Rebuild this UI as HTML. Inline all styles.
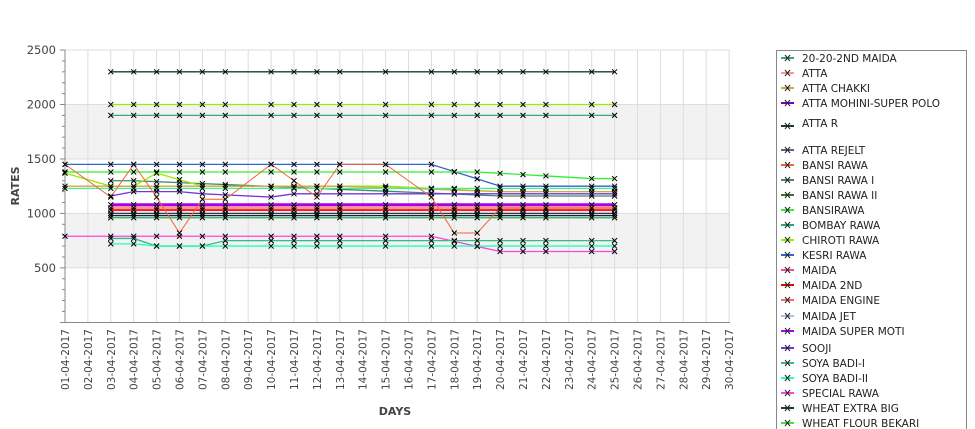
<!DOCTYPE html>
<html><head><meta charset="utf-8"><style>
body{margin:0;background:#fff;width:975px;height:429px;overflow:hidden;font-family:"DejaVu Sans","Liberation Sans",sans-serif}
svg{position:absolute;left:0;top:0}
</style></head><body>
<svg id="s" width="975" height="429" xmlns="http://www.w3.org/2000/svg"></svg>
<script>
const s=document.getElementById('s');let h='';
const X=d=>65+(d-1)*22.9, Y=v=>322.3-v*0.1089;
h+=`<rect x="65" y="${Y(2000)}" width="665" height="${Y(1500)-Y(2000)}" fill="#f2f2f2"/>`;
h+=`<rect x="65" y="${Y(1000)}" width="665" height="${Y(500)-Y(1000)}" fill="#f2f2f2"/>`;
for(let d=1;d<=30;d++)h+=`<line x1="${X(d)}" y1="50" x2="${X(d)}" y2="322" stroke="#ddd" stroke-width="1"/>`;
for(let v=500;v<=2500;v+=500)h+=`<line x1="65" y1="${Y(v)}" x2="730" y2="${Y(v)}" stroke="#ddd"/>`;
h+=`<line x1="65" y1="50" x2="65" y2="322.5" stroke="#888"/><line x1="60" y1="322.5" x2="730" y2="322.5" stroke="#888"/>`;
for(let v=100;v<=2500;v+=100)h+=`<line x1="${v%500?62:60}" y1="${Y(v)}" x2="65" y2="${Y(v)}" stroke="#888"/>`;
for(let v=500;v<=2500;v+=500)h+=`<text x="56" y="${Y(v)+4}" font-size="11.5" fill="#444" text-anchor="end">${v}</text>`;
for(let d=1;d<=30;d++){const l=(d<10?'0':'')+d+'-04-2017';h+=`<text transform="translate(${X(d)+4},329) rotate(-90)" font-size="10.5" fill="#444" text-anchor="end">${l}</text>`;}
h+=`<text x="395" y="415" font-size="11" font-weight="bold" fill="#444" text-anchor="middle">DAYS</text>`;
h+=`<text transform="translate(19,186) rotate(-90)" font-size="11" font-weight="bold" fill="#444" text-anchor="middle">RATES</text>`;
const D=[3,4,5,6,7,8,10,11,12,13,15,17,18,19,20,21,22,24,25];
function ser(col,f,days,w){days=days||D;let p=days.map(d=>[X(d),Y(f(d))]);
h+=`<polyline points="${p.map(a=>a.join(',')).join(' ')}" fill="none" stroke="${col}" stroke-width="${w||1.3}"/>`;
p.forEach(a=>h+=`<path d="M${a[0]-2.5},${a[1]-2.5}l5,5M${a[0]+2.5},${a[1]-2.5}l-5,5" stroke="#000" stroke-width="1"/>`);}
const lin=(a,b,d0,d1)=>d=>d<=d0?a:d>=d1?b:a+(b-a)*(d-d0)/(d1-d0);
const D1=[1,...D];
ser('#1b3a3a',()=>2300);
ser('#99ee00',()=>2000);
ser('#33aa88',()=>1900);
ser('#3366cc',lin(1450,1250,17,20),D1);
ser('#33ee33',lin(1380,1320,19,24),D1);
ser('#448866',d=>d<=3?1300:lin(1300,1160,4,20)(d));
ser('#99ee00',d=>({1:1370,3:1250,4:1250,5:1370,6:1310,7:1250}[d]||lin(1250,1200,15,20)(d)),D1);
ser('#ccaa44',lin(1250,1200,13,20),D1);
ser('#44ee99',()=>1230,D1);
ser('#7733dd',d=>d<=3?1160:d<=6?1200:d<=10?lin(1180,1150,7,10)(d):1180);
ser('#aa00ee',()=>1080,D,3);
ser('#ff9988',()=>1050,D,3);
ser('#ee2222',()=>1030,D,2);
ser('#223366',()=>1000);
ser('#222222',()=>980);
ser('#22aa66',()=>960);
const z={1:1450,3:1150,4:1450,5:1150,6:820,7:1130,8:1130,10:1450,11:1300,12:1150,13:1450,15:1450,17:1150,18:820,19:820,20:1050,21:1050,22:1050,24:1050,25:1050};
ser('#ee6633',d=>z[d],D1,1);
ser('#ff44dd',lin(790,650,17,20),D1);
ser('#33bb88',d=>d<=4?770:d<=7?700:750);
ser('#22ffbb',d=>d<=4?720:700);
h+=`<rect x="776.5" y="50.5" width="190" height="390" fill="#fff" stroke="#888"/>`;
const L=[['20-20-2ND MAIDA','#33aa88',58],['ATTA','#ff9988',73],['ATTA CHAKKI','#ccaa44',88],['ATTA MOHINI-SUPER POLO','#7700cc',103],['ATTA R','#1b3a3a',123],['ATTA REJELT','#556688',150],['BANSI RAWA','#ee6633',165],['BANSI RAWA I','#448866',180],['BANSI RAWA II','#337722',195],['BANSIRAWA','#33ee33',210],['BOMBAY RAWA','#22aa77',225],['CHIROTI RAWA','#99ee00',240],['KESRI RAWA','#3366cc',255],['MAIDA','#ff4499',270],['MAIDA 2ND','#ee0000',285],['MAIDA ENGINE','#ff6666',300],['MAIDA JET','#aabbee',316],['MAIDA SUPER MOTI','#aa00ee',331],['SOOJI','#7733dd',348],['SOYA BADI-I','#33bb88',363],['SOYA BADI-II','#22ffbb',378],['SPECIAL RAWA','#ff44dd',393],['WHEAT EXTRA BIG','#1b3a3a',408],['WHEAT FLOUR BEKARI','#33ee33',423]];
L.forEach(([t,c,y])=>{const yy=t=='ATTA R'?y+3:y;h+=`<line x1="781" y1="${yy}" x2="794" y2="${yy}" stroke="${c}" stroke-width="2"/><path d="M785,${yy-3}l5,6M790,${yy-3}l-5,6" stroke="#222"/><text x="802" y="${y+4}" font-size="10.5" fill="#222">${t}</text>`;});
s.innerHTML=h;
</script>
</body></html>
